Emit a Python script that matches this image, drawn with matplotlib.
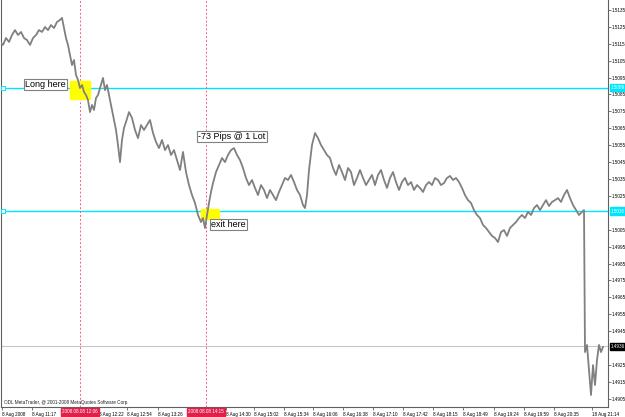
import matplotlib
matplotlib.use("Agg")
import matplotlib.pyplot as plt
from matplotlib.patches import Rectangle

plt.rcParams['font.family'] = ['Liberation Sans', 'DejaVu Sans']
fuente_estrecha = ['Liberation Sans Narrow', 'Liberation Sans', 'DejaVu Sans']

# Datos (barra, precio de cierre)
barras = [0, 3, 6, 9, 12, 15, 18, 21, 24, 27, 30, 33, 36, 39, 42, 45, 48, 51, 54, 57,
          60, 62, 64, 66, 68, 70, 72, 74, 76, 78, 80, 82, 84, 86, 88, 90, 92, 94, 96, 98,
          100, 103, 105, 107, 110, 113, 116, 118, 120, 122, 124, 126, 129, 132, 135, 138,
          141, 144, 147, 150, 153, 156, 159, 162, 165, 168, 171, 174, 177, 180, 183, 186,
          189, 192, 195, 198, 201, 203, 205, 207, 209, 211, 213, 216, 219, 222, 225, 228,
          231, 234, 237, 240, 243, 246, 249, 252, 255, 258, 261, 264, 267, 270, 273, 276,
          279, 282, 285, 288, 291, 294, 297, 300, 303, 305, 307, 309, 312, 315, 318, 321,
          324, 327, 330, 333, 336, 339, 342, 345, 348, 351, 354, 357, 360, 363, 366, 369,
          372, 375, 378, 381, 384, 387, 390, 393, 396, 399, 402, 405, 408, 411, 414, 417,
          420, 423, 426, 429, 432, 435, 438, 441, 444, 447, 450, 453, 456, 459, 462, 465,
          468, 471, 474, 477, 480, 483, 486, 489, 492, 495, 498, 501, 504, 507, 510, 513,
          516, 519, 522, 525, 528, 531, 534, 537, 540, 543, 546, 549, 552, 555, 558, 561,
          564, 567, 570, 573, 576, 579, 582, 584, 585, 587, 589, 591, 593, 595, 597, 599,
          601, 603]
precios = [1.51161, 1.51143, 1.51184, 1.51161, 1.51202, 1.51231, 1.51202, 1.51220, 1.51184, 1.51172,
           1.51143, 1.51184, 1.51202, 1.51231, 1.51220, 1.51249, 1.51231, 1.51261, 1.51243, 1.51279,
           1.51291, 1.51303, 1.51243, 1.51184, 1.51143, 1.51084, 1.51024, 1.51054, 1.50965, 1.50936,
           1.50888, 1.50906, 1.50865, 1.50847, 1.50817, 1.50746, 1.50788, 1.50758, 1.50829, 1.50847,
           1.50888, 1.50948, 1.50876, 1.50906, 1.50817, 1.50729, 1.50640, 1.50551, 1.50450, 1.50581,
           1.50652, 1.50687, 1.50746, 1.50711, 1.50640, 1.50592, 1.50669, 1.50640, 1.50669, 1.50699,
           1.50622, 1.50569, 1.50533, 1.50581, 1.50521, 1.50551, 1.50492, 1.50521, 1.50462, 1.50403,
           1.50510, 1.50391, 1.50314, 1.50255, 1.50208, 1.50137, 1.50095, 1.50119, 1.50060, 1.50137,
           1.50208, 1.50273, 1.50326, 1.50391, 1.50433, 1.50474, 1.50450, 1.50492, 1.50521, 1.50533,
           1.50492, 1.50462, 1.50415, 1.50356, 1.50314, 1.50344, 1.50297, 1.50255, 1.50314, 1.50285,
           1.50237, 1.50285, 1.50255, 1.50225, 1.50273, 1.50314, 1.50356, 1.50344, 1.50374, 1.50332,
           1.50285, 1.50255, 1.50196, 1.50178, 1.50255, 1.50403, 1.50551, 1.50622, 1.50592, 1.50551,
           1.50521, 1.50492, 1.50474, 1.50415, 1.50374, 1.50433, 1.50391, 1.50344, 1.50415, 1.50391,
           1.50314, 1.50356, 1.50403, 1.50356, 1.50314, 1.50344, 1.50374, 1.50314, 1.50374, 1.50403,
           1.50344, 1.50297, 1.50356, 1.50391, 1.50332, 1.50285, 1.50332, 1.50356, 1.50314, 1.50332,
           1.50285, 1.50314, 1.50297, 1.50273, 1.50314, 1.50332, 1.50314, 1.50356, 1.50344, 1.50314,
           1.50326, 1.50356, 1.50368, 1.50344, 1.50356, 1.50332, 1.50297, 1.50255, 1.50225, 1.50208,
           1.50166, 1.50137, 1.50119, 1.50078, 1.50060, 1.50036, 1.50013, 1.50001, 1.49977, 1.50036,
           1.50048, 1.50013, 1.50060, 1.50078, 1.50095, 1.50119, 1.50137, 1.50119, 1.50155, 1.50137,
           1.50178, 1.50196, 1.50166, 1.50196, 1.50225, 1.50190, 1.50214, 1.50225, 1.50237, 1.50214,
           1.50255, 1.50285, 1.50237, 1.50196, 1.50166, 1.50137, 1.50155, 1.50166, 1.49326, 1.49368,
           1.49220, 1.49072, 1.49249, 1.49131, 1.49279, 1.49368, 1.49326, 1.49356]

# Operación
entrada_barra = 80
salida_barra = 206
precio_entrada = 1.5089
precio_salida = 1.5016
precio_bid = 1.4936

# Eje de tiempo
pos_tiempo = [2, 32, 99, 127, 158, 226, 254, 284, 313, 343, 373, 403, 433, 463, 494, 524, 554, 592]
etiquetas_tiempo = ['8 Aug 2008', '8 Aug 11:17', '8 Aug 12:22', '8 Aug 12:54', '8 Aug 13:26',
                    '8 Aug 14:30', '8 Aug 15:02', '8 Aug 15:34', '8 Aug 16:06', '8 Aug 16:38',
                    '8 Aug 17:10', '8 Aug 17:42', '8 Aug 18:15', '8 Aug 18:49', '8 Aug 19:24',
                    '8 Aug 19:59', '8 Aug 20:35', '18 Aug 21:14']
etiquetas_rojas = ['2008.08.08 12:06', '2008.08.08 14:15']

# Eje de precios
ticks_precio = [1.4905, 1.4915, 1.4925, 1.4945, 1.4955, 1.4965, 1.4975, 1.4985, 1.4995,
                1.5005, 1.5025, 1.5035, 1.5045, 1.5055, 1.5065, 1.5075, 1.5085, 1.5095,
                1.5105, 1.5115, 1.5125, 1.5135]

fs_eje = 3.3

fig = plt.figure(figsize=(6.25, 4.17), dpi=100)
ax = fig.add_axes([1 / 625, 10 / 417, 607 / 625, 407 / 417])
ax.set_xlim(1, 608)
ax.set_ylim(1.49001, 1.51409)

# Líneas horizontales
ax.axhline(precio_bid, color='#c8c8c8', lw=0.8, zorder=1)
ax.axhline(precio_entrada, color='#00e5ff', lw=1.0, zorder=2)
ax.axhline(precio_salida, color='#00e5ff', lw=1.0, zorder=2)
ax.plot([3, 3], [precio_entrada, precio_salida], ls='none', marker='s', ms=2.5,
        mfc='white', mec='#00e5ff', mew=0.7, zorder=3)

# Líneas verticales de entrada y salida
for xb in [entrada_barra, salida_barra]:
    ax.axvline(xb, color='#ff5c7a', lw=0.7, ls=(0, (2, 2)), zorder=2)

# Rectángulos amarillos
ax.add_patch(Rectangle((70, 1.50823), 20, 0.00107, color='#ffff00', zorder=2))
ax.add_patch(Rectangle((201, 1.50113), 18, 0.00059, color='#ffff00', zorder=2))

# Precio
ax.plot(barras, precios, color='#808080', lw=1.3, zorder=3)

# Anotaciones
caja = dict(boxstyle='square,pad=0.15', fc='white', ec='#808080', lw=0.8)
ax.text(25, 1.50909, 'Long here', fontsize=6.5, va='center', ha='left', bbox=caja, zorder=5)
ax.text(198, 1.50601, '-73 Pips @ 1 Lot', fontsize=6.5, va='center', ha='left', bbox=caja, zorder=5)
ax.text(211, 1.50081, 'exit here', fontsize=6.5, va='center', ha='left', bbox=caja, zorder=5)
ax.text(4, 1.49015, 'ODL MetaTrader, @ 2001-2008 MetaQuotes Software Corp.', fontsize=3.3,
        va='bottom', ha='left', color='#202020')

# Ejes
ax.spines['top'].set_visible(False)
for lado in ['left', 'right', 'bottom']:
    ax.spines[lado].set_color('#606060')
    ax.spines[lado].set_linewidth(0.8)

ax.yaxis.tick_right()
ax.set_yticks(ticks_precio)
ax.set_yticklabels(['%.4f' % v for v in ticks_precio], family=fuente_estrecha)
ax.tick_params(axis='y', direction='out', length=2, width=0.6, color='#606060',
               labelsize=fs_eje, pad=0.8)

ax.set_xticks(pos_tiempo)
ax.set_xticklabels(etiquetas_tiempo)
ax.tick_params(axis='x', direction='out', length=2.5, width=0.6, color='#606060',
               labelsize=fs_eje, pad=1)
for lab in ax.get_xticklabels():
    lab.set_horizontalalignment('left')

# Etiquetas de precio a la derecha
trans = ax.get_yaxis_transform()
for p, fc, tc in [(precio_entrada, '#00e5ff', 'white'), (precio_salida, '#00e5ff', 'white'),
                  (precio_bid, 'black', 'white')]:
    ax.text(1.005, p, '%.4f' % p, transform=trans, fontsize=fs_eje, color=tc, va='center',
            ha='left', family=fuente_estrecha,
            bbox=dict(boxstyle='square,pad=0.25', fc=fc, ec=fc), clip_on=False, zorder=6)

# Etiquetas rojas de tiempo
transx = ax.get_xaxis_transform()
for xb, txt in zip([entrada_barra, salida_barra], etiquetas_rojas):
    ax.text(xb, -0.006, txt, transform=transx, fontsize=fs_eje, color='white', va='top',
            ha='center', bbox=dict(boxstyle='square,pad=0.25', fc='#e0204a', ec='#e0204a'),
            clip_on=False, zorder=6)

fig.savefig('out.png', dpi=100)
